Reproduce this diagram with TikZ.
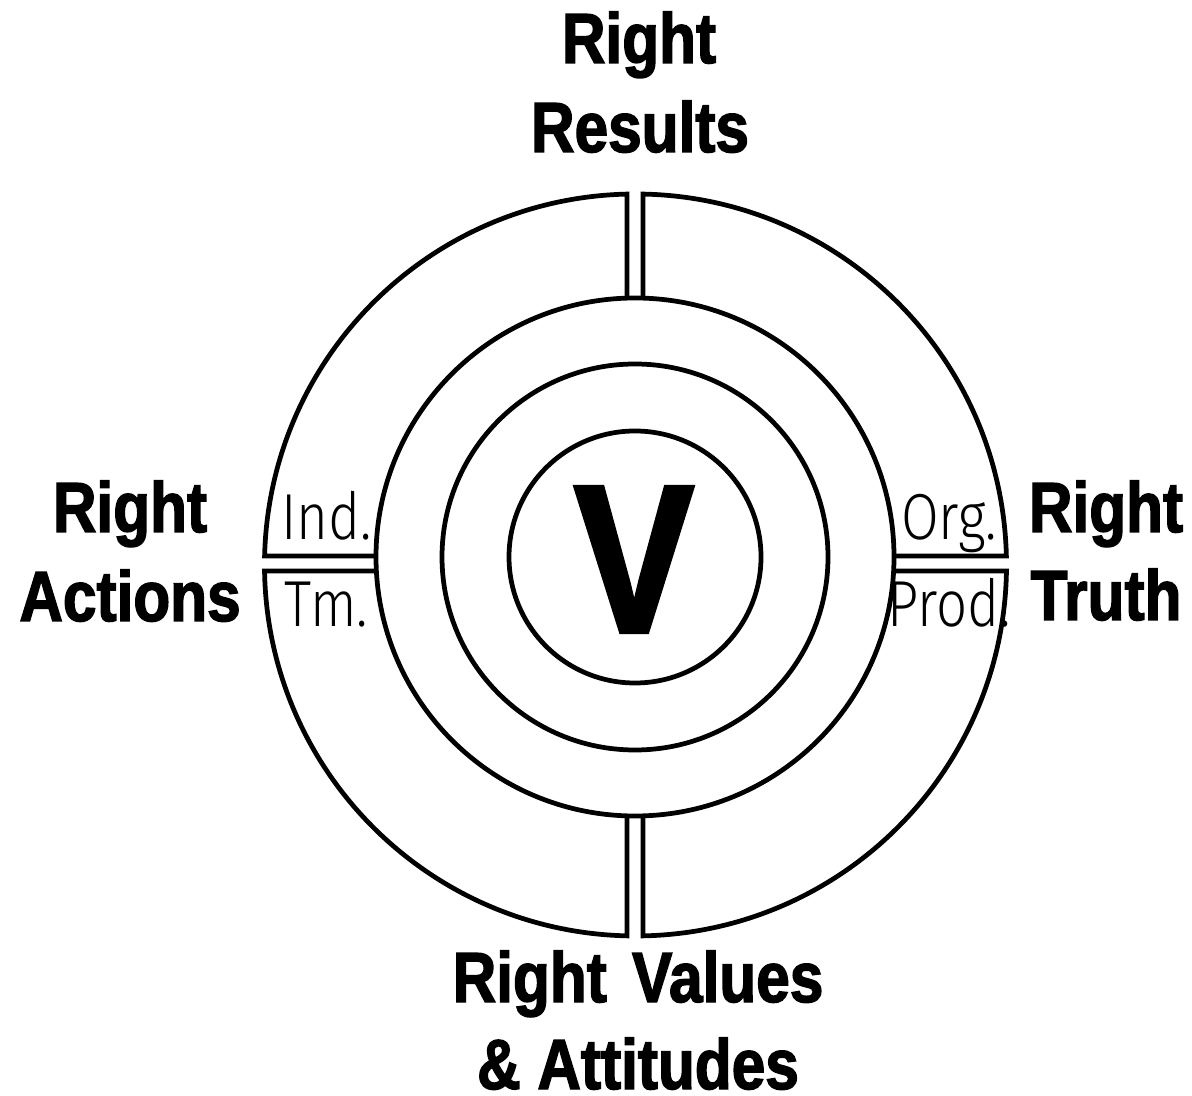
\documentclass[tikz,border=0pt]{standalone}
\usepackage{fontspec}
\newfontfamily\boldf[FakeStretch=0.85,FakeBold=2]{Liberation Sans Bold}
\newfontfamily\lightf[FakeStretch=0.84]{Fira Sans Light}
\begin{document}
\begin{tikzpicture}[x=0.02cm,y=0.02cm,
  ring/.style={line width=0.095cm},
  lbl/.style={anchor=base, inner sep=0pt, font=\boldf\fontsize{40.4}{40.4}\selectfont},
  sublbl/.style={anchor=base, inner sep=0pt, font=\lightf\fontsize{37}{37}\selectfont},
  biglbl/.style={anchor=base, inner sep=0pt, font=\boldf\fontsize{120}{120}\selectfont}]
\useasboundingbox (0,0) rectangle (1192,1095);
\coordinate (C) at (635,538);
% concentric circles
\draw[ring] (C) circle (126);
\draw[ring] (C) circle (193);
\draw[ring] (C) circle (259);
% outer quadrant segments
\draw[ring] (627,796.9) -- (627,900.9) arc[start angle=91.31, end angle=178.61, radius=371] -- (376,539);
\draw[ring] (643,796.9) -- (643,900.92) arc[start angle=88.84, end angle=1.39, radius=371] -- (894,539);
\draw[ring] (893.6,524) -- (1006.45,524) arc[start angle=-0.93, end angle=-88.84, radius=371] -- (643,279.1);
\draw[ring] (376.4,524) -- (264.55,524) arc[start angle=180.93, end angle=268.69, radius=371] -- (627,279.1);
% centre letter
\node[biglbl] (v) at (634,463) {V};
% main labels
\node[lbl] (top1) at (639,1032) {Right};
\node[lbl] (top2) at (640,943) {Results};
\node[lbl] (left1) at (130,563) {Right};
\node[lbl] (left2) at (130,474) {Actions};
\node[lbl] (right1) at (1106,563) {Right};
\node[lbl] (right2) at (1106,475) {Truth};
\node[lbl] (bot1) at (638,93) {Right\hspace{0.12em} Values};
\node[lbl] (bot2) at (638,6) {\& Attitudes};
% sub labels
\node[sublbl] (ind) at (326.5,555) {Ind.};
\node[sublbl] (tm) at (326.5,468) {Tm.};
\node[sublbl] (org) at (949,555) {Org.};
\node[sublbl] (prod) at (949,468) {Prod.};
\end{tikzpicture}
\end{document}
